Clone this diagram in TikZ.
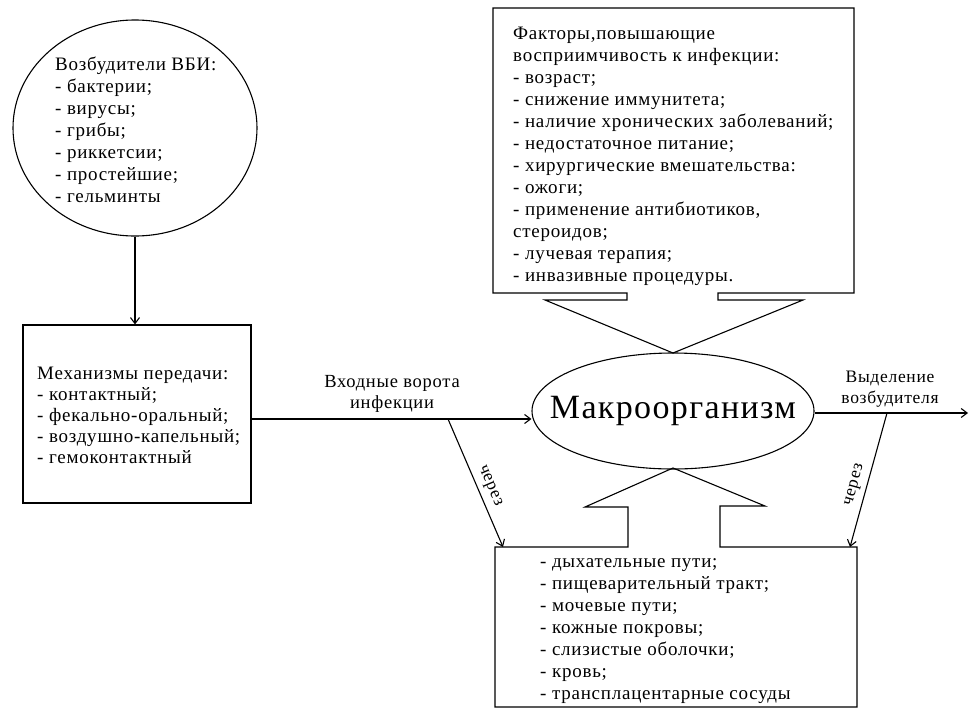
\documentclass[tikz,border=0pt]{standalone}
\usepackage{fontspec}
\setmainfont{Liberation Serif}[LetterSpace=4]
\usetikzlibrary{arrows.meta,shapes.geometric}
\begin{document}
\begin{tikzpicture}[x=1pt,y=-1pt,
  line/.style={line width=1.1pt},
  arr/.style={line, -{Straight Barb[length=6pt,width=9pt,line width=1.1pt]}},
  txt/.style={font=\fontsize{19}{22}\selectfont, align=left, inner sep=0pt, anchor=west},
  lbl/.style={font=\fontsize{17.5}{21}\selectfont, align=center, inner sep=1pt},
]
\useasboundingbox[fill=white] (0,0) rectangle (969,710);
% pathogens
\node[ellipse, draw, line, minimum width=244pt, minimum height=216pt] (agents) at (135,128) {};
\node[txt] (agentstxt) at (55,130) {Возбудители ВБИ:\\- бактерии;\\- вирусы;\\- грибы;\\- риккетсии;\\- простейшие;\\- гельминты};
% mechanisms
\node[draw, line, minimum width=228pt, minimum height=178pt] (mech) at (137,414) {};
\node[txt, font=\fontsize{19}{21}\selectfont] (mechtxt) at (37,415) {Механизмы передачи:\\- контактный;\\- фекально-оральный;\\- воздушно-капельный;\\- гемоконтактный};
\draw[arr] (agents.south) -- (agents.south |- mech.north);
% macroorganism
\node[ellipse, draw, line, minimum width=282pt, minimum height=116pt, inner sep=0pt] (macro) at (673,411) {};
\node[font=\fontsize{34}{40}\selectfont, inner sep=0pt] (macrotxt) at (macro.center) {Макроорганизм};
% factors box with arrow
\draw[line, line join=miter] (627,293) -- (493,293) -- (493,8) -- (854,8) -- (854,293) -- (718,293)
   -- (718,300) -- (803,300) -- (673,353) -- (545,300) -- (627,300) -- cycle;
\node[txt] (factors) at (513,156) {Факторы,повышающие\\восприимчивость к инфекции:\\- возраст;\\- снижение иммунитета;\\- наличие хронических заболеваний;\\- недостаточное питание;\\- хирургические вмешательства:\\- ожоги;\\- применение антибиотиков,\\стероидов;\\- лучевая терапия;\\- инвазивные процедуры.};
% portals box with arrow
\draw[line, line join=miter] (628,547) -- (495,547) -- (495,707) -- (857,707) -- (857,547) -- (720,547)
   -- (720,506) -- (765,506) -- (673,468) -- (585,507) -- (628,507) -- cycle;
\node[txt] (portals) at (540,631) {- дыхательные пути;\\- пищеварительный тракт;\\- мочевые пути;\\- кожные покровы;\\- слизистые оболочки;\\- кровь;\\- трансплацентарные сосуды};
% entry
\coordinate (gate) at (448,419);
\coordinate (portalL) at (503,547);
\draw[arr] (mech.east |- gate) -- (macro.west |- gate);
\node[lbl, font=\fontsize{18.5}{21}\selectfont] (gatelbl) at (392,394) {Входные ворота\\инфекции};
\draw[arr] (gate) -- node[lbl, sloped, above, pos=0.56, inner sep=5pt] (viaL) {через} (portalL);
% exit
\coordinate (exitend) at (968,413);
\coordinate (exitfork) at (887,413);
\coordinate (portalR) at (850,547);
\draw[arr] (macro.east |- exitend) -- (exitend);
\node[lbl] (exitlbl) at (890,389) {Выделение\\возбудителя};
\draw[arr] (exitfork) -- node[lbl, sloped, above, pos=0.56, inner sep=5pt] (viaR) {через} (portalR);
\end{tikzpicture}
\end{document}
